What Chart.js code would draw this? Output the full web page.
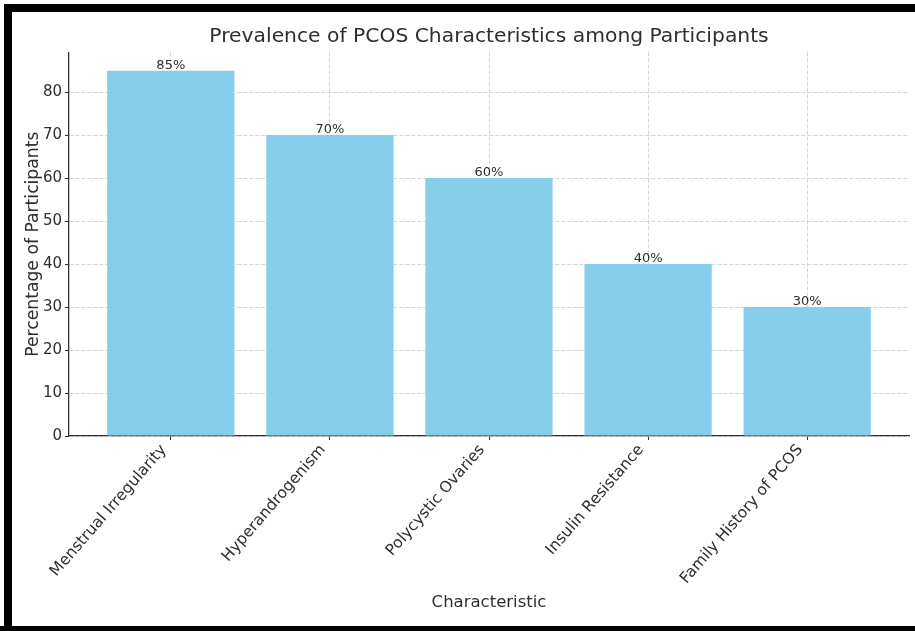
<!DOCTYPE html>
<html>
<head>
<meta charset="utf-8">
<script src="https://cdn.jsdelivr.net/npm/chart.js@4.4.1/dist/chart.umd.min.js"></script>
<style>
  html, body { margin: 0; padding: 0; background: #fff; }
  #wrap { position: relative; width: 915px; height: 631px; overflow: hidden; }
  #wrap canvas { position: absolute; left: 0; top: 0; }
  .frame { position: absolute; background: #000; }
</style>
</head>
<body>
<div id="wrap">
  <canvas id="chart" width="915" height="631"></canvas>
  <div class="frame" style="left:4px;top:4px;width:911px;height:8px"></div>
  <div class="frame" style="left:4px;top:4px;width:8px;height:627px"></div>
  <div class="frame" style="left:0;top:626px;width:915px;height:5px"></div>
</div>
<script>
// Survey results: share of participants showing each PCOS characteristic
const categories = [
  'Menstrual Irregularity',
  'Hyperandrogenism',
  'Polycystic Ovaries',
  'Insulin Resistance',
  'Family History of PCOS'
];
const percentages = [85, 70, 60, 40, 30];
const yTickValues = [0, 10, 20, 30, 40, 50, 60, 70, 80];

const FONT = "'DejaVu Sans', 'Liberation Sans', sans-serif";
const TEXT = '#2e2e2e';
const GRID = 'rgba(176,176,176,0.55)';

// Percent labels above each bar, positioned from the bar elements themselves
const barValueLabels = {
  id: 'barValueLabels',
  afterDatasetsDraw(chart) {
    const { ctx } = chart;
    const meta = chart.getDatasetMeta(0);
    ctx.save();
    ctx.font = `13px ${FONT}`;
    ctx.fillStyle = TEXT;
    ctx.textAlign = 'center';
    ctx.textBaseline = 'alphabetic';
    meta.data.forEach((bar, i) => {
      ctx.fillText(percentages[i] + '%', bar.x, bar.y - 2);
    });
    ctx.restore();
  }
};

new Chart(document.getElementById('chart'), {
  type: 'bar',
  data: {
    datasets: [{
      label: 'Percentage of Participants',
      data: percentages.map((v, i) => ({ x: i, y: v })),
      backgroundColor: '#87CEEB',
      borderWidth: 0,
      categoryPercentage: 0.8,
      barPercentage: 1.0
    }]
  },
  options: {
    responsive: false,
    animation: false,
    layout: { padding: { left: 0, right: 6, top: 0, bottom: 0 } },
    plugins: {
      legend: { display: false },
      tooltip: { enabled: false },
      title: {
        display: true,
        fullSize: false,
        text: 'Prevalence of PCOS Characteristics among Participants',
        color: TEXT,
        font: { family: FONT, size: 20.3, weight: 'normal' },
        padding: { top: 25, bottom: 3 }
      }
    },
    scales: {
      x: {
        type: 'linear',
        min: -0.64,
        max: 4.64,
        offset: false,
        afterBuildTicks(axis) {
          axis.ticks = categories.map((_, i) => ({ value: i }));
        },
        afterFit(axis) { axis.height = 195; },
        ticks: {
          autoSkip: false,
          minRotation: 49,
          maxRotation: 49,
          padding: 1,
          labelOffset: -7,
          color: TEXT,
          font: { family: FONT, size: 15.6 },
          callback: (v) => categories[v]
        },
        grid: {
          offset: false,
          color: GRID,
          lineWidth: 1,
          tickLength: 4,
          tickColor: TEXT,
          tickWidth: 1
        },
        border: { display: true, color: '#333', width: 1.3, dash: [4, 2] },
        title: {
          display: true,
          text: 'Characteristic',
          color: TEXT,
          font: { family: FONT, size: 16.5 },
          padding: { top: 18, bottom: 18 }
        }
      },
      y: {
        type: 'linear',
        min: 0,
        max: 89.25,
        afterBuildTicks(axis) {
          axis.ticks = yTickValues.map((v) => ({ value: v }));
        },
        afterFit(axis) { axis.width = 69; },
        ticks: {
          padding: 3,
          color: TEXT,
          font: { family: FONT, size: 15 }
        },
        grid: {
          color: GRID,
          lineWidth: 1,
          tickLength: 4,
          tickColor: TEXT,
          tickWidth: 1
        },
        border: { display: true, color: '#333', width: 1.3, dash: [4, 2] },
        title: {
          display: true,
          text: 'Percentage of Participants',
          color: TEXT,
          font: { family: FONT, size: 17.2 },
          padding: { top: 23, bottom: 23 }
        }
      }
    }
  },
  plugins: [barValueLabels]
});
</script>
</body>
</html>
